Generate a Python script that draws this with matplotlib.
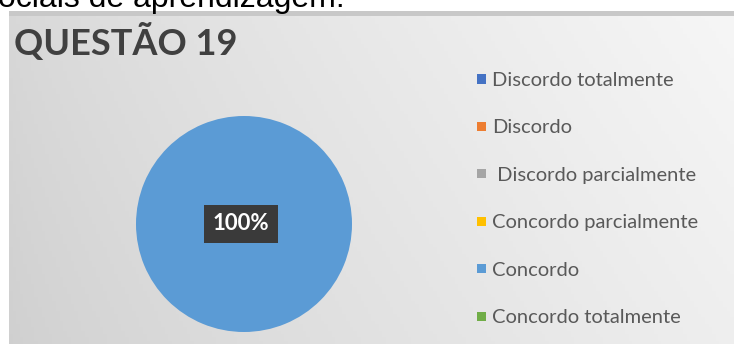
import numpy as np
import matplotlib
matplotlib.use("Agg")
import matplotlib.pyplot as plt
from matplotlib.patches import Rectangle

categories = ["Discordo totalmente", "Discordo", " Discordo parcialmente",
              "Concordo parcialmente", "Concordo", "Concordo totalmente"]
values = [0, 0, 0, 0, 100, 0]
colors = ["#4472C4", "#ED7D31", "#A5A5A5", "#FFC000", "#5B9BD5", "#70AD47"]
title = "QUESTÃO 19"
above_text = "sociais de aprendizagem."

W, H = 734, 344
fig = plt.figure(figsize=(W / 100, H / 100), dpi=100)
fig.patch.set_facecolor("white")

def fx(px):
    return px / W

def fy(py):
    return 1 - py / H

# panel background gradient
bg = fig.add_axes([fx(9), 0, fx(W - 9), (H - 11) / H])
xs = np.linspace(0, 1, 200)
ys = np.linspace(0, 1, 100)
X, Y = np.meshgrid(xs, ys)
g = 0.815 + 0.12 * X ** 0.8 + 0.03 * (1 - Y)
img = np.dstack([g, g, g])
bg.imshow(img, aspect="auto", extent=[0, 1, 0, 1], origin="upper")
bg.add_patch(Rectangle((0, 0.985), 1, 0.015, color="#c8c8c8", lw=0))
bg.set_xlim(0, 1)
bg.set_ylim(0, 1)
bg.axis("off")

# partially visible text above the chart
fig.text(fx(345), fy(7), above_text, ha="right", va="baseline",
         fontsize=23, family="Liberation Sans", color="black")

# title
fig.text(fx(14), fy(55), title, ha="left", va="baseline", fontsize=26,
         family="Lato", fontweight="bold", color="#404040")

# pie
cx, cy, r = 244, 224, 108
ax = fig.add_axes([fx(cx - r), (H - cy - r) / H, 2 * r / W, 2 * r / H])
wedges, texts, autotexts = ax.pie(
    values, colors=colors, startangle=90, counterclock=False,
    autopct=lambda p: f"{p:.0f}%" if p > 0 else "", pctdistance=0.0,
    wedgeprops=dict(linewidth=0))
for t in autotexts:
    t.set_fontfamily("Lato")
    t.set_fontweight("bold")
    t.set_fontsize(16)
    t.set_color("white")
    t.set_bbox(dict(boxstyle="square,pad=0.38", fc="#3a3a3a", ec="none"))
    t.set_x(t.get_position()[0] - 0.03)
ax.set_xlim(-1, 1)
ax.set_ylim(-1, 1)
ax.set_aspect("equal")
ax.axis("off")

# legend
y0, dy = 79, 47.4
for i, (lab, col) in enumerate(zip(categories, colors)):
    yc = y0 + i * dy
    fig.patches.append(Rectangle((fx(477), fy(yc + 4.5)), 9 / W, 9 / H,
                                 transform=fig.transFigure, color=col, lw=0))
    fig.text(fx(492), fy(yc), lab, ha="left", va="center_baseline",
             fontsize=14.5, family="Lato", color="#595959")

fig.savefig("out.png", dpi=100)
